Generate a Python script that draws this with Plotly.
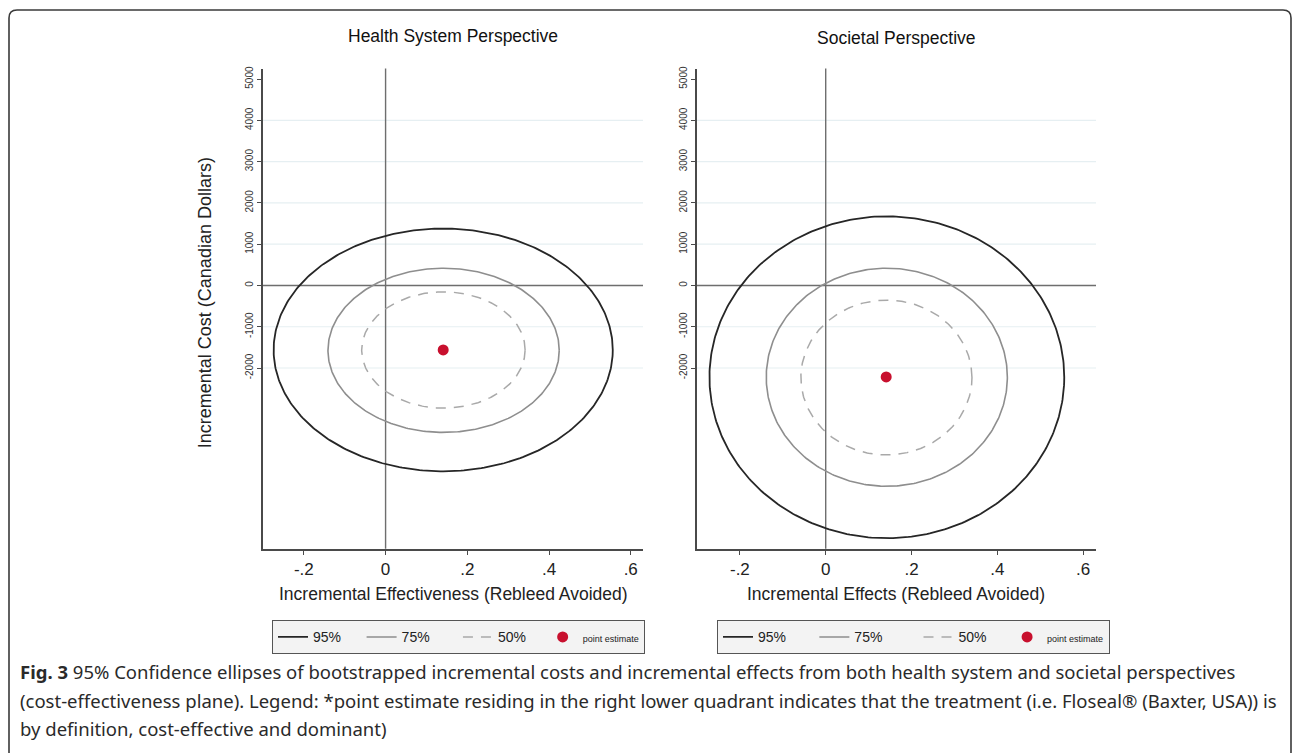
import numpy as np
import plotly.graph_objects as go

W, H = 1292, 753

# ---------------- data ----------------
LEVELS = ["95%", "75%", "50%"]
POINT_LABEL = "point estimate"
X_TICKS = [-0.2, 0, 0.2, 0.4, 0.6]
X_TICKTEXT = ["-.2", "0", ".2", ".4", ".6"]
Y_TICKS = [-2000, -1000, 0, 1000, 2000, 3000, 4000, 5000]
GRID_Y = [-2000, -1000, 1000, 2000, 3000, 4000]

# Health system perspective
HS_POINT_X = [0.141]
HS_POINT_Y = [-1563]
HS_CENTER_X = [0.141, 0.142, 0.1415]
HS_CENTER_Y = [-1562, -1571, -1563]
HS_HALF_X = [0.415, 0.283, 0.200]
HS_HALF_Y = [2940, 1989, 1408]

# Societal perspective
SOC_POINT_X = [0.141]
SOC_POINT_Y = [-2215]
SOC_CENTER_X = [0.1425, 0.1424, 0.1415]
SOC_CENTER_Y = [-2223, -2223, -2230]
SOC_HALF_X = [0.4135, 0.281, 0.1994]
SOC_HALF_Y = [3898, 2641, 1875]

X_RANGE = [-0.30, 0.63]
Y_RANGE = [-6380, 5255]

# ---------------- styles ----------------
LINE_STYLES = {
    "95%": dict(color="#262626", width=1.8, dash="solid"),
    "75%": dict(color="#8e8e8e", width=1.6, dash="solid"),
    "50%": dict(color="#a9a9a9", width=1.5, dash="10px,8px"),
}
RED = "#c8102e"
FONT = "Liberation Sans, Arial, Helvetica, sans-serif"
CAP_FONT = "Noto Sans, Open Sans, sans-serif"
NB = "\u00a0"
# legend spacing padding (non-breaking spaces) per panel
PAD_HS = [4, 6, 3]
PAD_SOC = [6, 8, 4]


def px(x):
    return x / W


def py(y):
    return 1 - y / H


fig = go.Figure()

t = np.linspace(0, 2 * np.pi, 361)


def add_panel(xaxis, yaxis, legend, cx, cy, hx, hy, ptx, pty, pads):
    for i, lev in enumerate(LEVELS):
        fig.add_trace(go.Scatter(
            x=cx[i] + hx[i] * np.cos(t), y=cy[i] + hy[i] * np.sin(t),
            mode="lines", line=LINE_STYLES[lev], name=lev + NB * pads[i],
            xaxis=xaxis, yaxis=yaxis, legend=legend, hoverinfo="skip"))
    fig.add_trace(go.Scatter(
        x=ptx, y=pty, mode="markers",
        marker=dict(color=RED, size=11),
        name=f'<span style="font-size:9px">{POINT_LABEL}</span>',
        xaxis=xaxis, yaxis=yaxis, legend=legend))


add_panel("x", "y", "legend", HS_CENTER_X, HS_CENTER_Y, HS_HALF_X, HS_HALF_Y,
          HS_POINT_X, HS_POINT_Y, PAD_HS)
add_panel("x2", "y2", "legend2", SOC_CENTER_X, SOC_CENTER_Y, SOC_HALF_X, SOC_HALF_Y,
          SOC_POINT_X, SOC_POINT_Y, PAD_SOC)

xdoms = [[px(263), px(643)], [px(697), px(1096)]]
ydom = [py(548.3), py(66.7)]

axis_common_x = dict(
    range=X_RANGE, tickvals=X_TICKS, ticktext=X_TICKTEXT,
    showgrid=False, zeroline=False, showline=True, linecolor="#4a4a4a", linewidth=1.6,
    ticks="outside", ticklen=4, tickwidth=1.3, tickcolor="#4a4a4a",
    tickfont=dict(family=FONT, size=17, color="#222"),
)
axis_common_y = dict(
    range=Y_RANGE, tickvals=Y_TICKS, ticktext=[str(v) for v in Y_TICKS],
    showgrid=False, zeroline=False, showline=True, linecolor="#4a4a4a", linewidth=1.6,
    ticks="outside", ticklen=4, tickwidth=1.2, tickcolor="#4a4a4a", tickangle=-90,
    tickfont=dict(family=FONT, size=10, color="#333"),
)

fig.update_layout(
    xaxis=dict(domain=xdoms[0], anchor="y", **axis_common_x),
    yaxis=dict(domain=ydom, anchor="x", **axis_common_y),
    xaxis2=dict(domain=xdoms[1], anchor="y2", **axis_common_x),
    yaxis2=dict(domain=ydom, anchor="x2", **axis_common_y),
)

shapes = []
for xr, yr in (("x", "y"), ("x2", "y2")):
    for g in GRID_Y:
        shapes.append(dict(type="line", xref=f"{xr} domain", yref=yr, x0=0, x1=1, y0=g, y1=g,
                           line=dict(color="#e6eff2", width=1.2), layer="below"))
    shapes.append(dict(type="line", xref=f"{xr} domain", yref=yr, x0=0, x1=1, y0=0, y1=0,
                       line=dict(color="#6e6e6e", width=1.4), layer="below"))
    shapes.append(dict(type="line", xref=xr, yref=f"{yr} domain", x0=0, x1=0, y0=0, y1=1,
                       line=dict(color="#6e6e6e", width=1.4), layer="below"))

# outer rounded frame
r = 8
x0, y0, x1, y1 = 9, 8, 1291, 760
path = (f"M {px(x0)},{py(y1 - r)} L {px(x0)},{py(y0 + r)} "
        f"Q {px(x0)},{py(y0)} {px(x0 + r)},{py(y0)} L {px(x1 - r)},{py(y0)} "
        f"Q {px(x1)},{py(y0)} {px(x1)},{py(y0 + r)} L {px(x1)},{py(y1 - r)} "
        f"Q {px(x1)},{py(y1)} {px(x1 - r)},{py(y1)} L {px(x0 + r)},{py(y1)} "
        f"Q {px(x0)},{py(y1)} {px(x0)},{py(y1 - r)} Z")
shapes.append(dict(type="path", xref="paper", yref="paper", path=path,
                   line=dict(color="#3a3a3a", width=1.6)))
fig.update_layout(shapes=shapes)


def label(text, x, y, size, angle=0, color="#222", xanchor="center", family=FONT):
    return dict(text=text, x=px(x), y=py(y), xref="paper", yref="paper",
                xanchor=xanchor, yanchor="middle", showarrow=False, textangle=angle,
                font=dict(family=family, size=size, color=color))


ann = [
    label("Health System Perspective", 453, 34, 17.5, color="#111"),
    label("Societal Perspective", 896, 36, 17.5, color="#111"),
    label("Incremental Effectiveness (Rebleed Avoided)", 453, 594, 17.5),
    label("Incremental Effects (Rebleed Avoided)", 896, 594, 17.5),
    label("Incremental Cost (Canadian Dollars)", 205, 302, 18, angle=-90),
]

caption_lines = [
    "<b>Fig. 3</b> 95% Confidence ellipses of bootstrapped incremental costs and incremental effects from both health system and societal perspectives",
    "(cost-effectiveness plane). Legend: *point estimate residing in the right lower quadrant indicates that the treatment (i.e. Floseal® (Baxter, USA)) is",
    "by definition, cost-effective and dominant)",
]
for line, yy in zip(caption_lines, [671, 700, 728]):
    ann.append(label(line, 18, yy, 18.5, color="#2a2a2a", xanchor="left", family=CAP_FONT))
fig.update_layout(annotations=ann)

legend_common = dict(
    orientation="h", xanchor="left", yanchor="top",
    bgcolor="#f3f3f3", bordercolor="#555", borderwidth=1,
    font=dict(family=FONT, size=14, color="#222"),
    tracegroupgap=0,
)
fig.update_layout(
    legend=dict(x=px(272), y=py(620), **legend_common),
    legend2=dict(x=px(717), y=py(620), **legend_common),
)

fig.update_layout(
    width=W, height=H, margin=dict(l=0, r=0, t=0, b=0),
    paper_bgcolor="white", plot_bgcolor="white", showlegend=True,
)

fig.write_html("out.html", config={"displayModeBar": False},
               post_script="document.body.style.margin='0';document.body.style.overflow='hidden';")
